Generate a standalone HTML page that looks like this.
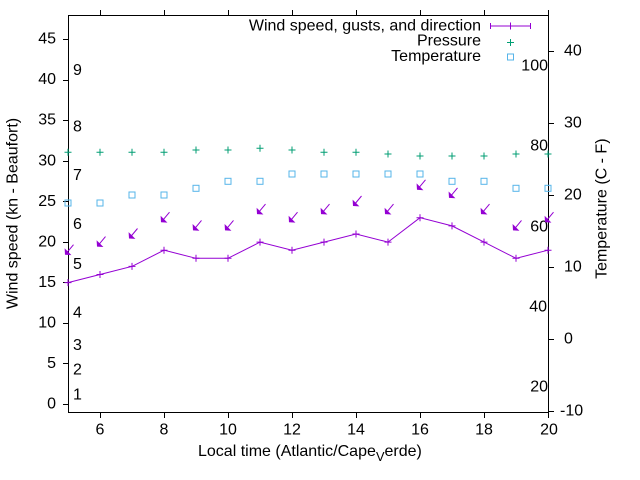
<!DOCTYPE html>
<html><head><meta charset="utf-8"><style>
html,body{margin:0;padding:0;background:#fff;}
svg{display:block;}
text{font-family:"Liberation Sans",Arial,sans-serif;font-size:16px;fill:#000;}
</style></head><body>
<svg width="640" height="480" viewBox="0 0 640 480" xmlns="http://www.w3.org/2000/svg">
<rect width="640" height="480" fill="#fff"/>
<!-- border -->
<g stroke="#000" stroke-width="1" fill="none" shape-rendering="crispEdges">
<path d="M68.5 15.5 H548.5 V412.5 H68.5 Z"/>
<!-- left ticks -->
<path d="M63 404.5H68 M63 363.5H68 M63 323.5H68 M63 282.5H68 M63 242.5H68 M63 201.5H68 M63 161.5H68 M63 120.5H68 M63 80.5H68 M63 39.5H68"/>
<!-- right ticks -->
<path d="M549 411.5H554 M549 339.5H554 M549 267.5H554 M549 195.5H554 M549 123.5H554 M549 51.5H554"/>
<!-- bottom ticks -->
<path d="M100.5 413V418 M164.5 413V418 M228.5 413V418 M292.5 413V418 M356.5 413V418 M420.5 413V418 M484.5 413V418 M548.5 413V418"/>
<!-- top ticks -->
<path d="M100.5 10V15 M164.5 10V15 M228.5 10V15 M292.5 10V15 M356.5 10V15 M420.5 10V15 M484.5 10V15 M548.5 10V15"/>
</g>
<!-- left tick labels -->
<g text-anchor="end">
<text x="56" y="408.5">0</text>
<text x="56" y="368">5</text>
<text x="56" y="327.5">10</text>
<text x="56" y="287">15</text>
<text x="56" y="246.5">20</text>
<text x="56" y="206">25</text>
<text x="56" y="165.5">30</text>
<text x="56" y="124.5">35</text>
<text x="56" y="84">40</text>
<text x="56" y="43.5">45</text>
</g>
<!-- right tick labels -->
<g>
<text x="560" y="415.7">-10</text>
<text x="564" y="343.5">0</text>
<text x="564" y="271.5">10</text>
<text x="564" y="199.5">20</text>
<text x="564" y="127.5">30</text>
<text x="564" y="55.5">40</text>
</g>
<!-- x tick labels -->
<g text-anchor="middle">
<text x="100" y="434.3">6</text>
<text x="164" y="434.3">8</text>
<text x="228" y="434.3">10</text>
<text x="292" y="434.3">12</text>
<text x="356" y="434.3">14</text>
<text x="420" y="434.3">16</text>
<text x="484" y="434.3">18</text>
<text x="549" y="434.3">20</text>
</g>
<!-- Fahrenheit labels -->
<g text-anchor="end">
<text x="548" y="70.5">100</text>
<text x="548" y="150.5">80</text>
<text x="548" y="231.5">60</text>
<text x="547" y="311.7">40</text>
<text x="548" y="391.7">20</text>
</g>
<!-- Beaufort labels -->
<g>
<text x="73" y="75">9</text>
<text x="73" y="131.7">8</text>
<text x="73" y="180">7</text>
<text x="73" y="229">6</text>
<text x="73" y="269">5</text>
<text x="73" y="317.7">4</text>
<text x="73" y="350">3</text>
<text x="73" y="374.3">2</text>
<text x="73" y="399.3">1</text>
</g>
<!-- axis labels -->
<text transform="translate(17.5,213.5) rotate(-90)" text-anchor="middle">Wind speed (kn - Beaufort)</text>
<text transform="translate(606.5,208.7) rotate(-90)" text-anchor="middle">Temperature (C - F)</text>
<text x="198" y="456">Local time (Atlantic/Cape</text>
<text x="376" y="461" style="font-size:12.8px">V</text>
<text x="384.5" y="456">erde)</text>
<!-- legend -->
<g text-anchor="end">
<text x="481" y="30.5">Wind speed, gusts, and direction</text>
<text x="481" y="45.5">Pressure</text>
<text x="481" y="61">Temperature</text>
</g>
<g stroke="#9400d3" stroke-width="1" fill="none">
<path d="M490 26H531 M490.5 23V29 M530.5 23V29 M510.5 22.5V29.5"/>
</g>
<path d="M507 42.5H514 M510.5 39V46" stroke="#009e73" stroke-width="1" fill="none"/>
<rect x="507.5" y="54" width="6" height="6" stroke="#56b4e9" stroke-width="1" fill="none"/>
<!-- pressure -->
<g stroke="#009e73" stroke-width="1" fill="none">
<path d="M64.5 152.3h7 M68 148.8v7
M96.5 152.3h7 M100 148.8v7
M128.5 152.3h7 M132 148.8v7
M160.5 152.3h7 M164 148.8v7
M192.5 150h7 M196 146.5v7
M224.5 150h7 M228 146.5v7
M256.5 148.3h7 M260 144.8v7
M288.5 150h7 M292 146.5v7
M320.5 152.3h7 M324 148.8v7
M352.5 152.3h7 M356 148.8v7
M384.5 154h7 M388 150.5v7
M416.5 156h7 M420 152.5v7
M448.5 156h7 M452 152.5v7
M480.5 156h7 M484 152.5v7
M512.5 154h7 M516 150.5v7
M544.5 154h7 M548 150.5v7"/>
</g>
<!-- temperature squares -->
<g stroke="#56b4e9" stroke-width="1" fill="none">
<rect x="65" y="200" width="6" height="6"/>
<rect x="97" y="200" width="6" height="6"/>
<rect x="129" y="192" width="6" height="6"/>
<rect x="161" y="192" width="6" height="6"/>
<rect x="193" y="185.3" width="6" height="6"/>
<rect x="225" y="178.3" width="6" height="6"/>
<rect x="257" y="178.3" width="6" height="6"/>
<rect x="289" y="171" width="6" height="6"/>
<rect x="321" y="171" width="6" height="6"/>
<rect x="353" y="171" width="6" height="6"/>
<rect x="385" y="171" width="6" height="6"/>
<rect x="417" y="171" width="6" height="6"/>
<rect x="449" y="178.3" width="6" height="6"/>
<rect x="481" y="178.3" width="6" height="6"/>
<rect x="513" y="185.3" width="6" height="6"/>
<rect x="545" y="185.3" width="6" height="6"/>
</g>
<!-- wind speed line -->
<g stroke="#9400d3" stroke-width="1" fill="none">
<polyline points="68,282.6 100,274.5 132,266.4 164,250.2 196,258.3 228,258.3 260,242.1 292,250.2 324,242.1 356,234 388,242.1 420,217.7 452,225.9 484,242.1 516,258.3 548,250.2"/>
<path d="M64.5 282.6h7 M68 279.1v7
M96.5 274.5h7 M100 271v7
M128.5 266.4h7 M132 262.9v7
M160.5 250.2h7 M164 246.7v7
M192.5 258.3h7 M196 254.8v7
M224.5 258.3h7 M228 254.8v7
M256.5 242.1h7 M260 238.6v7
M288.5 250.2h7 M292 246.7v7
M320.5 242.1h7 M324 238.6v7
M352.5 234h7 M356 230.5v7
M384.5 242.1h7 M388 238.6v7
M416.5 217.7h7 M420 214.2v7
M448.5 225.9h7 M452 222.4v7
M480.5 242.1h7 M484 238.6v7
M512.5 258.3h7 M516 254.8v7
M544.5 250.2h7 M548 246.7v7"/>
</g>
<!-- gust arrows -->
<g stroke="#9400d3" stroke-width="1" fill="#9400d3">
<path d="M73.5 244.7L66 253.7" fill="none"/><path d="M65 254.7l-0.4 -6.4l6.8 6.8z" stroke="none"/>
<path d="M105.5 236.6L98 245.6" fill="none"/><path d="M97 246.6l-0.4 -6.4l6.8 6.8z" stroke="none"/>
<path d="M137.5 228.5L130 237.5" fill="none"/><path d="M129 238.5l-0.4 -6.4l6.8 6.8z" stroke="none"/>
<path d="M169.5 212.2L162 221.2" fill="none"/><path d="M161 222.2l-0.4 -6.4l6.8 6.8z" stroke="none"/>
<path d="M201.5 220.4L194 229.4" fill="none"/><path d="M193 230.4l-0.4 -6.4l6.8 6.8z" stroke="none"/>
<path d="M233.5 220.4L226 229.4" fill="none"/><path d="M225 230.4l-0.4 -6.4l6.8 6.8z" stroke="none"/>
<path d="M265.5 204.1L258 213.1" fill="none"/><path d="M257 214.1l-0.4 -6.4l6.8 6.8z" stroke="none"/>
<path d="M297.5 212.2L290 221.2" fill="none"/><path d="M289 222.2l-0.4 -6.4l6.8 6.8z" stroke="none"/>
<path d="M329.5 204.1L322 213.1" fill="none"/><path d="M321 214.1l-0.4 -6.4l6.8 6.8z" stroke="none"/>
<path d="M361.5 196L354 205" fill="none"/><path d="M353 206l-0.4 -6.4l6.8 6.8z" stroke="none"/>
<path d="M393.5 204.1L386 213.1" fill="none"/><path d="M385 214.1l-0.4 -6.4l6.8 6.8z" stroke="none"/>
<path d="M425.5 179.8L418 188.8" fill="none"/><path d="M417 189.8l-0.4 -6.4l6.8 6.8z" stroke="none"/>
<path d="M457.5 187.9L450 196.9" fill="none"/><path d="M449 197.9l-0.4 -6.4l6.8 6.8z" stroke="none"/>
<path d="M489.5 204.1L482 213.1" fill="none"/><path d="M481 214.1l-0.4 -6.4l6.8 6.8z" stroke="none"/>
<path d="M521.5 220.4L514 229.4" fill="none"/><path d="M513 230.4l-0.4 -6.4l6.8 6.8z" stroke="none"/>
<path d="M553.5 212.2L546 221.2" fill="none"/><path d="M545 222.2l-0.4 -6.4l6.8 6.8z" stroke="none"/>
</g>
</svg>
</body></html>
